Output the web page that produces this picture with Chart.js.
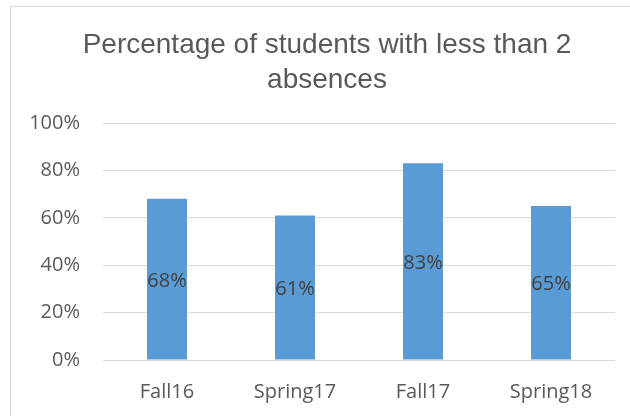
<!DOCTYPE html>
<html>
<head>
<meta charset="utf-8">
<script src="https://cdn.jsdelivr.net/npm/chart.js@4"></script>
<style>
  html, body { margin: 0; padding: 0; background: #fff; }
  #wrap { position: relative; width: 630px; height: 416px; }
</style>
</head>
<body>
<div id="wrap"><canvas id="chart"></canvas></div>
<script>
const terms = ["Fall16", "Spring17", "Fall17", "Spring18"]
const pctUnderTwo = [68, 61, 83, 65]
const yTicks = [0, 20, 40, 60, 80, 100]
const titleLines = ["Percentage of students with less than 2", "absences"]

// outer frame like the office chart box
const framePlugin = {
  id: "frame",
  beforeDraw(chart) {
    const ctx = chart.ctx
    ctx.save()
    ctx.strokeStyle = "#d9d9d9"
    ctx.lineWidth = 1
    ctx.beginPath()
    ctx.moveTo(10.5, 416)
    ctx.lineTo(10.5, 6.5)
    ctx.lineTo(630, 6.5)
    ctx.stroke()
    ctx.restore()
  },
  // title is centred a bit right of the canvas middle
  afterLayout(chart) {
    if (chart.titleBlock) chart.titleBlock.left += 15
  },
}

// value labels centred inside each bar
const barLabels = {
  id: "barLabels",
  afterDatasetsDraw(chart) {
    const ctx = chart.ctx
    const meta = chart.getDatasetMeta(0)
    ctx.save()
    ctx.font = "20px 'Open Sans'"
    ctx.fillStyle = "#404040"
    ctx.textAlign = "center"
    ctx.textBaseline = "middle"
    meta.data.forEach((bar, i) => {
      const mid = (bar.y + bar.base) / 2 + 2
      ctx.fillText(pctUnderTwo[i] + "%", bar.x, mid)
    })
    ctx.restore()
  },
}

new Chart(document.getElementById("chart"), {
  type: "bar",
  data: {
    labels: terms,
    datasets: [
      {
        data: pctUnderTwo,
        backgroundColor: "#5b9bd5",
        barPercentage: 0.3125,
        categoryPercentage: 1,
      },
    ],
  },
  options: {
    responsive: true,
    maintainAspectRatio: false,
    animation: false,
    layout: { padding: { left: 24, right: 15, top: 6, bottom: 0 } },
    plugins: {
      legend: { display: false },
      tooltip: { enabled: false },
      title: {
        display: true,
        text: titleLines,
        color: "#595959",
        font: { family: "'Liberation Sans', Arial, sans-serif", size: 28, weight: "normal", lineHeight: 1.25 },
        padding: { top: 22, bottom: 25 },
      },
    },
    scales: {
      x: {
        grid: { display: false },
        border: { display: false },
        ticks: {
          color: "#595959",
          font: { family: "'Open Sans'", size: 20 },
          padding: 12,
        },
      },
      y: {
        min: 0,
        max: 100,
        afterFit: (s) => { s.width = 79 },
        afterBuildTicks: (s) => { s.ticks = yTicks.map((v) => ({ value: v })) },
        grid: { color: "#d9d9d9", lineWidth: 1, drawTicks: false },
        border: { display: false },
        ticks: {
          color: "#595959",
          font: { family: "'Open Sans'", size: 20 },
          padding: 23,
          callback: (v) => v + "%",
        },
      },
    },
  },
  plugins: [framePlugin, barLabels],
})
</script>
</body>
</html>
